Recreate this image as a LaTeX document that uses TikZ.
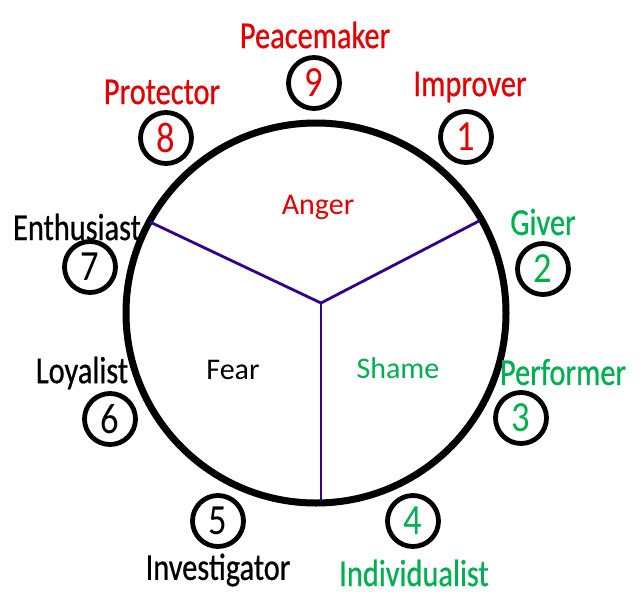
\documentclass[tikz,border=0pt]{standalone}
\usepackage{fontspec}
\setmainfont{Carlito}
\newfontfamily\labfont[FakeStretch=0.8,FakeBold=0.6]{Carlito}
\newfontfamily\numfont[FakeStretch=0.85]{Carlito}
\definecolor{ared}{RGB}{228,0,0}
\definecolor{agreen}{RGB}{0,176,80}
\definecolor{apurple}{RGB}{50,0,140}
\begin{document}
\begin{tikzpicture}[x=1pt,y=-1pt,
  numc/.style={circle,draw=black,line width=4.8pt,minimum size=51pt,inner sep=0pt,font=\numfont\fontsize{43}{43}\selectfont},
  lab/.style={inner sep=0pt,font=\labfont\fontsize{38}{38}\selectfont},
  region/.style={inner sep=0pt,font=\fontsize{30}{30}\selectfont},
  spoke/.style={draw=apurple,line width=2.8pt}]
\useasboundingbox (0,0) rectangle (642,600);
\node[circle,draw=black,line width=7pt,minimum size=380pt,inner sep=0pt] (big) at (316,313) {};
\coordinate (hub) at (321,303);
\coordinate (pl) at (150,222);
\coordinate (pr) at (479,221);
\coordinate (pb) at (321,501);
\draw[spoke] (hub) -- (pl);
\draw[spoke] (hub) -- (pr);
\draw[spoke] (hub) -- (pb);
\node[region,text=ared] (anger) at (318,207) {Anger};
\node[region,text=black] (fear) at (233,370) {Fear};
\node[region,text=agreen] (shame) at (398,368) {Shame};
\node[numc,text=ared] (n9) at (314,83) {9};
\node[numc,text=ared] (n8) at (166,138) {8};
\node[numc,text=ared] (n1) at (466,137) {1};
\node[numc,text=black] (n7) at (90,267) {7};
\node[numc,text=black] (n6) at (110,419) {6};
\node[numc,text=agreen] (n2) at (543,269) {2};
\node[numc,text=agreen] (n3) at (521,418) {3};
\node[numc,text=black] (n5) at (218,521) {5};
\node[numc,text=agreen] (n4) at (413,521) {4};
\node[lab,text=ared] (l9) at (315,35) {Peacemaker};
\node[lab,text=ared] (l8) at (162,92) {Protector};
\node[lab,text=ared] (l1) at (470,87) {Improver};
\node[lab,text=black] (l7) at (77,227) {Enthusiast};
\node[lab,text=black] (l6) at (82,373) {Loyalist};
\node[lab,text=agreen] (l2) at (543,222) {Giver};
\node[lab,text=agreen] (l3) at (563,372) {Performer};
\node[lab,text=black] (l5) at (218,570) {Investigator};
\node[lab,text=agreen] (l4) at (414,573) {Individualist};
\end{tikzpicture}
\end{document}
